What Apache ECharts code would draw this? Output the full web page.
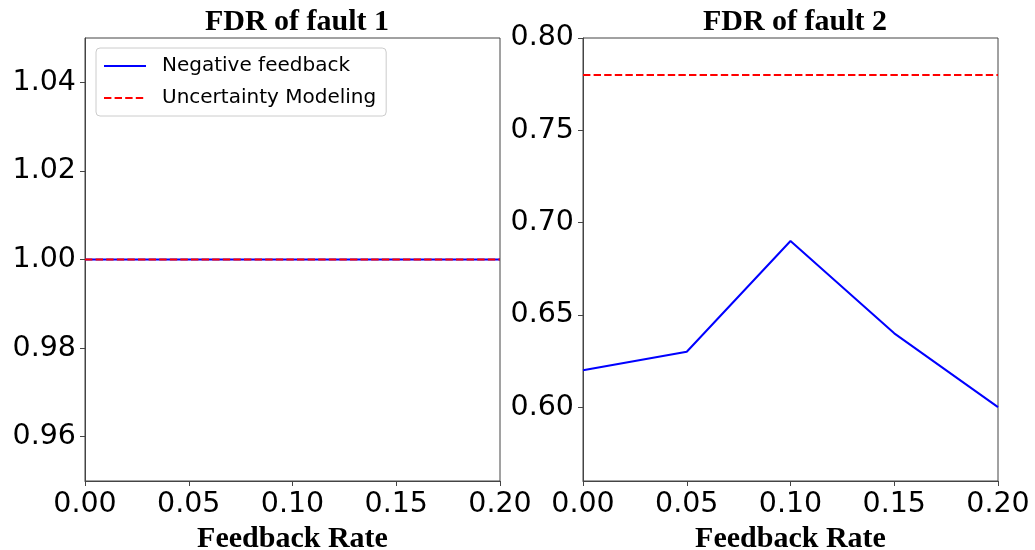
<!DOCTYPE html>
<html>
<head>
<meta charset="utf-8">
<title>FDR vs Feedback Rate</title>
<script src="https://cdn.jsdelivr.net/npm/echarts@6/dist/echarts.min.js"></script>
<style>
  html, body { margin: 0; padding: 0; background: #fff; }
  #chart { width: 1035px; height: 550px; }
</style>
</head>
<body>
<div id="chart"></div>
<script>
// Feedback rates on the x axis
const feedbackRates = [0, 0.05, 0.10, 0.15, 0.20];

// Fault 1 detection rates
const fault1Negative = [1.00, 1.00, 1.00, 1.00, 1.00];
const fault1Uncertainty = [1.00, 1.00, 1.00, 1.00, 1.00];

// Fault 2 detection rates
const fault2Negative = [0.62, 0.63, 0.69, 0.64, 0.60];
const fault2Uncertainty = [0.78, 0.78, 0.78, 0.78, 0.78];

// Tick labels
const xTicks = [0, 0.05, 0.10, 0.15, 0.20];
const fault1YTicks = [0.96, 0.98, 1.00, 1.02, 1.04];
const fault2YTicks = [0.60, 0.65, 0.70, 0.75, 0.80];

const titles = ['FDR of fault 1', 'FDR of fault 2'];
const seriesNames = ['Negative feedback', 'Uncertainty Modeling'];
const xName = 'Feedback Rate';

const pairs = (ys) => feedbackRates.map((x, i) => [x, ys[i]]);

const tickFont = { fontFamily: 'DejaVu Sans', fontSize: 28.5, color: '#000' };
const serifBold = { fontFamily: 'Liberation Serif', fontWeight: 'bold', fontSize: 30, color: '#000' };
const spine = { show: true, lineStyle: { color: '#444', width: 1 } };
const tick = { show: true, inside: false, length: 5, lineStyle: { color: '#444', width: 1 } };
const fmt = (v) => Number(v).toFixed(2);

function xAxis(gridIndex) {
  return {
    type: 'value', gridIndex, min: 0, max: 0.2,
    axisLine: spine,
    axisTick: Object.assign({ customValues: xTicks }, tick),
    axisLabel: Object.assign({ customValues: xTicks, formatter: fmt, margin: 9, showMinLabel: true, showMaxLabel: true, hideOverlap: false }, tickFont),
    splitLine: { show: false },
    name: xName, nameLocation: 'middle', nameGap: 33,
    nameTextStyle: serifBold
  };
}

function yAxis(gridIndex, min, max, ticks) {
  return {
    type: 'value', gridIndex, min, max,
    axisLine: spine,
    axisTick: Object.assign({ customValues: ticks }, tick),
    axisLabel: Object.assign({ customValues: ticks, formatter: fmt, margin: 9 }, tickFont),
    splitLine: { show: false }
  };
}

const blueLine = { color: '#0000ff', width: 2 };
const redDash = { color: '#ff0000', width: 2, type: [7.4, 3.2] };

const option = {
  backgroundColor: '#fff',
  animation: false,
  title: [
    { text: titles[0], left: 292, top: 2, textAlign: 'center', textStyle: serifBold },
    { text: titles[1], left: 790, top: 2, textAlign: 'center', textStyle: serifBold }
  ],
  legend: {
    data: seriesNames,
    orient: 'vertical',
    left: 96, top: 48,
    padding: [8, 10, 8, 7],
    itemGap: 12,
    itemWidth: 42, itemHeight: 20,
    itemStyle: { opacity: 0, borderWidth: 0 },
    backgroundColor: '#fff',
    borderColor: '#cccccc', borderWidth: 1, borderRadius: 4,
    textStyle: { fontFamily: 'DejaVu Sans', fontSize: 20, color: '#000', padding: [0, 0, 0, 11] }
  },
  grid: [
    { left: 85, right: 535, top: 38, bottom: 69, outerBoundsMode: 'none', show: true, borderColor: '#444', borderWidth: 1, backgroundColor: 'transparent' },
    { left: 583, right: 37, top: 38, bottom: 69, outerBoundsMode: 'none', show: true, borderColor: '#444', borderWidth: 1, backgroundColor: 'transparent' }
  ],
  xAxis: [xAxis(0), xAxis(1)],
  yAxis: [
    yAxis(0, 0.95, 1.05, fault1YTicks),
    yAxis(1, 0.56, 0.80, fault2YTicks)
  ],
  series: [
    { name: seriesNames[0], type: 'line', xAxisIndex: 0, yAxisIndex: 0, data: pairs(fault1Negative), symbol: 'none', lineStyle: blueLine, itemStyle: { color: '#0000ff' } },
    { name: seriesNames[1], type: 'line', xAxisIndex: 0, yAxisIndex: 0, data: pairs(fault1Uncertainty), symbol: 'none', lineStyle: redDash, itemStyle: { color: '#ff0000' } },
    { name: seriesNames[0], type: 'line', xAxisIndex: 1, yAxisIndex: 1, data: pairs(fault2Negative), symbol: 'none', lineStyle: blueLine, itemStyle: { color: '#0000ff' } },
    { name: seriesNames[1], type: 'line', xAxisIndex: 1, yAxisIndex: 1, data: pairs(fault2Uncertainty), symbol: 'none', lineStyle: redDash, itemStyle: { color: '#ff0000' } }
  ]
};

const chart = echarts.init(document.getElementById('chart'), null, { renderer: 'canvas' });
chart.setOption(option);
</script>
</body>
</html>
